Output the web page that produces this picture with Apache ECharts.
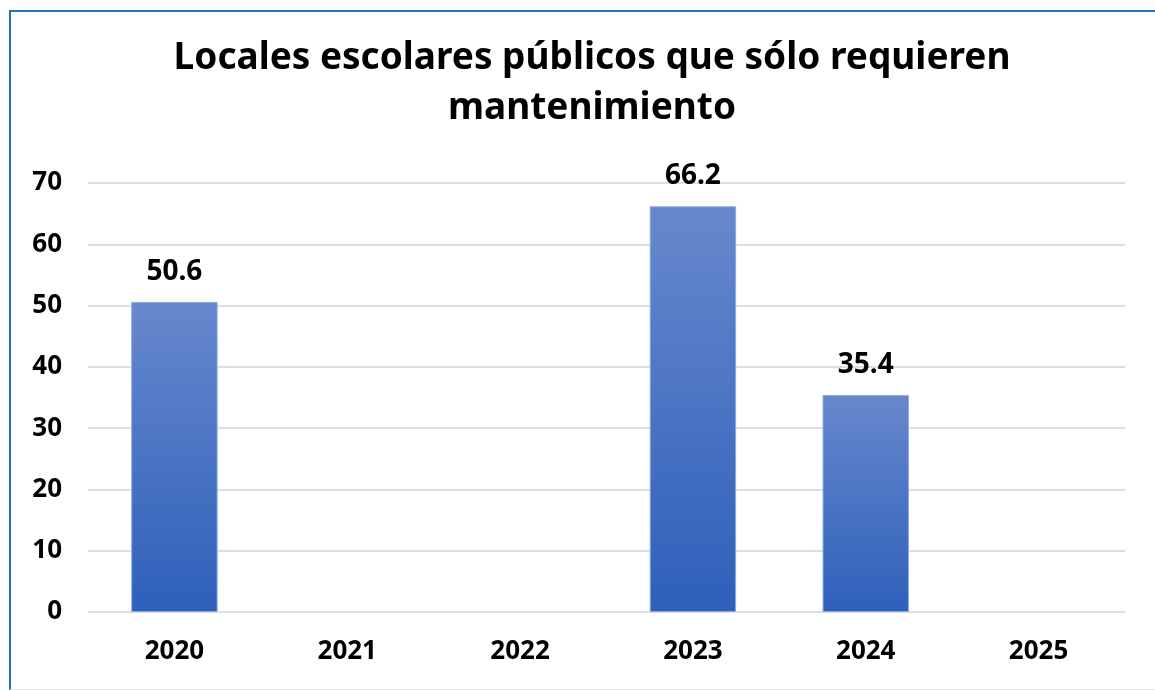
<!DOCTYPE html>
<html>
<head>
<meta charset="utf-8">
<script src="https://cdn.jsdelivr.net/npm/echarts@6/dist/echarts.min.js"></script>
<style>
  html, body { margin: 0; padding: 0; background: #fff; }
  #frame { position: absolute; left: 9px; top: 10px; width: 1160px; height: 677px;
           border-left: 2px solid #1f72c4; border-top: 2px solid #1f72c4; border-bottom: 1px solid #e4e4e4; }
  #chart { width: 1155px; height: 690px; position: absolute; left: 0; top: 0; }
</style>
</head>
<body>
<div id="frame"></div>
<div id="chart"></div>
<script>
'use strict';

var years = ['2020', '2021', '2022', '2023', '2024', '2025'];
var values = [50.6, null, null, 66.2, 35.4, null];
var yTicks = { min: 0, max: 70, step: 10 };
var titleText = 'Locales escolares públicos que sólo requieren\nmantenimiento';

var myChart = echarts.init(document.getElementById('chart'));
var font = '"Noto Sans", "Open Sans", sans-serif';

var option = {
  animation: false,
  title: {
    text: titleText,
    left: 587,
    textAlign: 'center',
    top: 28,
    textStyle: { fontFamily: font, fontWeight: 'bold', fontSize: 37, lineHeight: 50, color: '#000' }
  },
  grid: { left: 88, right: 30, top: 183, bottom: 78 },
  xAxis: {
    type: 'category',
    data: years,
    axisLine: { show: false },
    axisTick: { show: false },
    axisLabel: { margin: 27, color: '#000', fontFamily: font, fontWeight: 'bold', fontSize: 26 }
  },
  yAxis: {
    type: 'value',
    min: yTicks.min,
    max: yTicks.max,
    interval: yTicks.step,
    axisLabel: { margin: 26, color: '#000', fontFamily: font, fontWeight: 'bold', fontSize: 26 },
    splitLine: { lineStyle: { color: '#dadee8', width: 2 } }
  },
  series: [{
    type: 'bar',
    data: values,
    barWidth: '50%',
    itemStyle: {
      color: new echarts.graphic.LinearGradient(0, 0, 0, 1, [
        { offset: 0, color: '#6788cd' },
        { offset: 1, color: '#2e60ba' }
      ]),
      borderColor: '#8fa9e0',
      borderWidth: 1
    },
    label: {
      show: true,
      position: 'top',
      distance: 16,
      color: '#000',
      fontFamily: font,
      fontWeight: 'bold',
      fontSize: 28
    }
  }]
};
myChart.setOption(option);
</script>
</body>
</html>
